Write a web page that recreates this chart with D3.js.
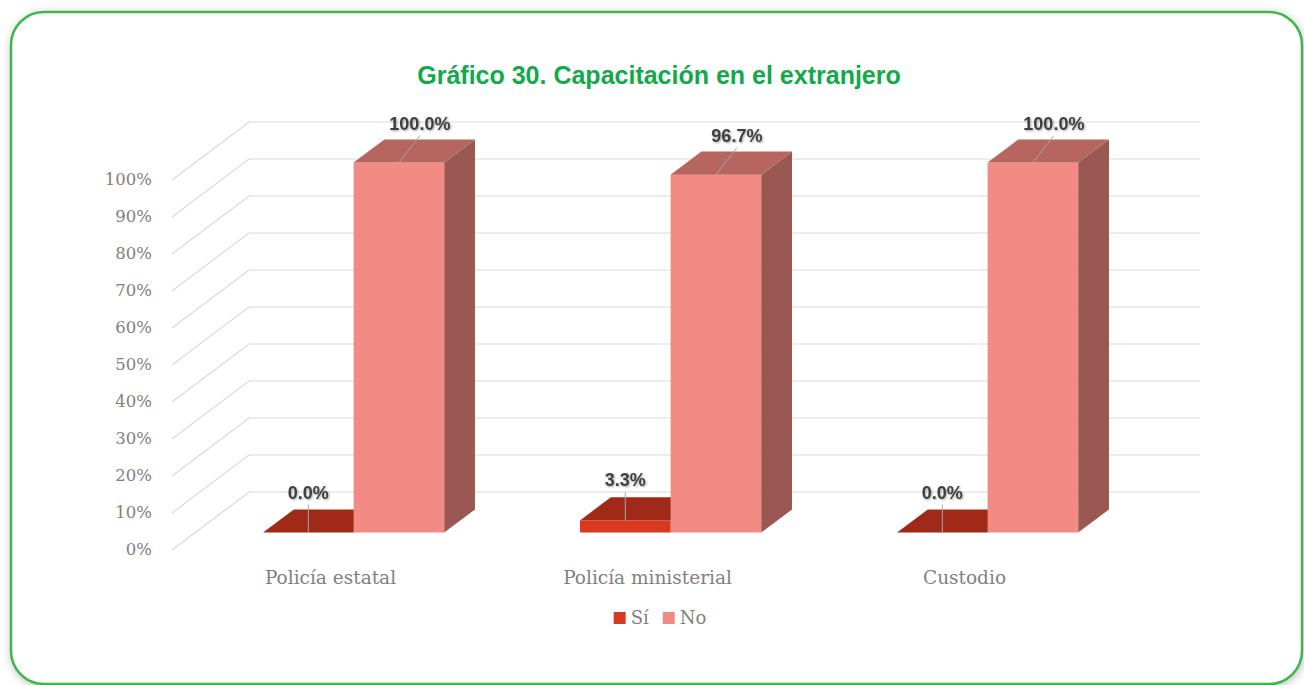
<!DOCTYPE html>
<html><head><meta charset="utf-8">
<script src="https://cdn.jsdelivr.net/npm/d3@7"></script>
<style>body{margin:0;background:#fff;} svg{display:block}</style>
</head><body><svg id="c" width="1304" height="685"></svg>
<script>
const titleText = "Gráfico 30. Capacitación en el extranjero";
const categories = ["Policía estatal", "Policía ministerial", "Custodio"];
const seriesNames = ["Sí", "No"];
const siValues = [0.0, 0.033, 0.0];
const noValues = [1.0, 0.967, 1.0];
const yTicks = [0, 0.1, 0.2, 0.3, 0.4, 0.5, 0.6, 0.7, 0.8, 0.9, 1.0];

const seriesValues = [siValues, noValues];
const faceColors = {
  "Sí": {front: "#d8391f", top: "#a02a17", side: "#7e2010"},
  "No": {front: "#f28b84", top: "#b6665f", side: "#9a5853"}
};

const svg = d3.select("#c");
const defs = svg.append("defs");
const sh = defs.append("filter").attr("id", "frameSh").attr("x", "-5%").attr("y", "-5%").attr("width", "110%").attr("height", "110%");
sh.append("feDropShadow").attr("dx", 1).attr("dy", 2).attr("stdDeviation", 4).attr("flood-color", "#000").attr("flood-opacity", 0.25);
const ts = defs.append("filter").attr("id", "txtSh").attr("x", "-20%").attr("y", "-40%").attr("width", "140%").attr("height", "180%");
ts.append("feDropShadow").attr("dx", 1).attr("dy", 1).attr("stdDeviation", 1.2).attr("flood-color", "#000").attr("flood-opacity", 0.35);

// frame
svg.append("rect").attr("x", 11).attr("y", 12).attr("width", 1291).attr("height", 672)
  .attr("rx", 33).attr("fill", "#fff").attr("stroke", "#3db54a").attr("stroke-width", 2.5)
  .attr("filter", "url(#frameSh)");

// title
svg.append("text").attr("x", 659).attr("y", 84).attr("text-anchor", "middle")
  .attr("font-family", "Liberation Sans, Arial, sans-serif").attr("font-weight", "bold")
  .attr("font-size", 25).attr("fill", "#12a94a").text(titleText);

// scales
const x = d3.scaleBand().domain(categories).range([172, 1123]).padding(0);
const gapWidth = 1.5;
const barW = x.bandwidth() / (seriesNames.length + gapWidth);
const xs = d3.scaleBand().domain(seriesNames)
  .range([barW * gapWidth / 2, barW * gapWidth / 2 + barW * seriesNames.length]).padding(0);
const y = d3.scaleLinear().domain([0, 1]).range([550, 180]);
const DX = 77, DY = -58, zF = 0.3, zB = 0.7;
const proj = (px, py, z) => [px + z * DX, py + z * DY];
const xLeft = x.range()[0], xRight = x.range()[1];

// gridlines (side wall + back wall)
const grid = svg.append("g");
yTicks.forEach(t => {
  const a = proj(xLeft, y(t), 0), b = proj(xLeft, y(t), 1), c = proj(xRight, y(t), 1);
  grid.append("path").attr("d", d3.line()([a, b, c])).attr("fill", "none")
    .attr("stroke", "#d9d9d9").attr("stroke-width", 1.2);
});

// y axis
const yAxis = svg.append("g").attr("transform", `translate(${xLeft},0)`)
  .call(d3.axisLeft(y).tickValues(yTicks).tickFormat(d3.format(".0%")).tickSize(0).tickPadding(20));
yAxis.select(".domain").remove();
yAxis.selectAll("text").attr("font-family", "DejaVu Serif, serif").attr("font-size", 16.5)
  .attr("fill", "#808080").attr("dy", "0.3em");

// x axis
const xAxis = svg.append("g").attr("transform", "translate(0,566)")
  .call(d3.axisBottom(x).tickSize(0).tickPadding(5));
xAxis.select(".domain").remove();
xAxis.selectAll("text").attr("font-family", "DejaVu Serif, serif").attr("font-size", 18.5).attr("fill", "#808080");

// bars
const bars = svg.append("g");
const labels = [];
categories.forEach((cat, i) => {
  seriesNames.forEach((s, k) => {
    const v = seriesValues[k][i];
    const x0 = x(cat) + xs(s), x1 = x0 + xs.bandwidth();
    const c = faceColors[s];
    const fbl = proj(x0, y(0), zF), fbr = proj(x1, y(0), zF);
    const ftl = proj(x0, y(v), zF), ftr = proj(x1, y(v), zF);
    const btl = proj(x0, y(v), zB), btr = proj(x1, y(v), zB), bbr = proj(x1, y(0), zB);
    bars.append("path").attr("d", d3.line()([fbr, bbr, btr, ftr]) + "Z").attr("fill", c.side);
    bars.append("path").attr("d", d3.line()([fbl, fbr, ftr, ftl]) + "Z").attr("fill", c.front);
    bars.append("path").attr("d", d3.line()([ftl, ftr, btr, btl]) + "Z").attr("fill", c.top);
    const anchor = proj((x0 + x1) / 2, y(v), zF);
    labels.push({v, s, anchor});
  });
});

// data labels
const lab = svg.append("g");
labels.forEach(d => {
  const dxL = d.s === "No" ? 21 : 0;
  const dyL = d.s === "No" ? -39 : -40;
  const cx = d.anchor[0] + dxL, cy = d.anchor[1] + dyL;
  lab.append("line").attr("x1", d.anchor[0]).attr("y1", d.anchor[1])
    .attr("x2", cx).attr("y2", cy + 12).attr("stroke", "#a6a6a6").attr("stroke-width", 1);
  lab.append("text").attr("x", cx).attr("y", cy + 6).attr("text-anchor", "middle")
    .attr("font-family", "Liberation Sans, Arial, sans-serif").attr("font-weight", "bold")
    .attr("font-size", 18).attr("fill", "#404040").attr("filter", "url(#txtSh)")
    .text(d3.format(".1%")(d.v));
});

// legend
const leg = svg.append("g");
let lx = 0;
seriesNames.forEach((s, k) => {
  const g = leg.append("g").attr("transform", `translate(${lx},0)`);
  g.append("rect").attr("x", 0).attr("y", -6).attr("width", 12).attr("height", 12).attr("fill", faceColors[s].front);
  const t = g.append("text").attr("x", 17).attr("y", 6).attr("font-family", "DejaVu Serif, serif")
    .attr("font-size", 18).attr("fill", "#808080").text(s);
  lx += 17 + t.node().getComputedTextLength() + 14;
});
const lw = lx - 14;
leg.attr("transform", `translate(${660 - lw / 2},618)`);
</script></body></html>
